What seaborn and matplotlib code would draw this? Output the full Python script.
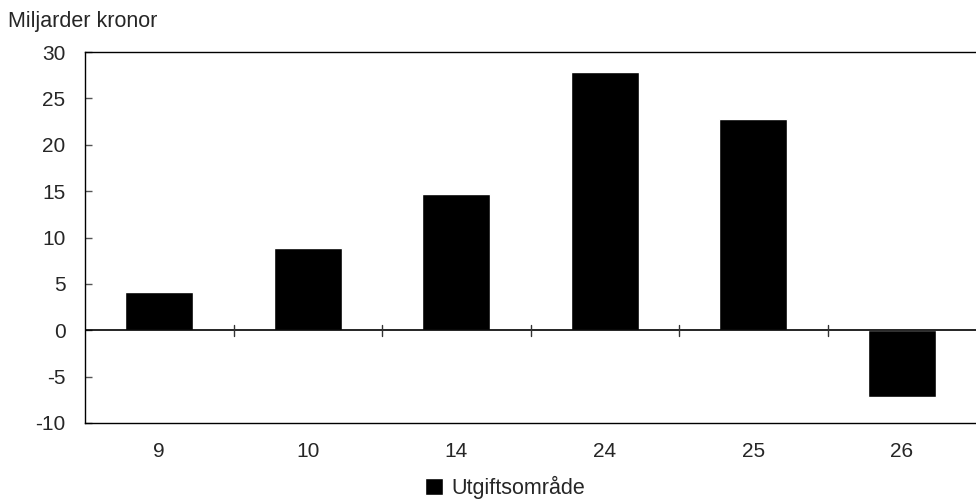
import matplotlib
matplotlib.use("Agg")
import matplotlib.pyplot as plt
import seaborn as sns
import pandas as pd
from matplotlib.patches import Patch

# data
omraden = ["9", "10", "14", "24", "25", "26"]
belopp = [4.1, 8.9, 14.7, 27.8, 22.8, -7.2]

df = pd.DataFrame({"omrade": omraden, "belopp": belopp})

sns.set_style("white")
plt.rcParams["font.family"] = ["Liberation Sans", "DejaVu Sans"]
plt.rcParams["axes.unicode_minus"] = False

fig = plt.figure(figsize=(9.76, 5.01), dpi=100)
ax = fig.add_axes([85 / 976, 1 - 423 / 501, 1 - 85 / 976, 371 / 501])

sns.barplot(data=df, x="omrade", y="belopp", color="black", width=0.46,
            saturation=1, ax=ax, order=omraden)

ax.set_ylim(-10, 30)
ax.set_xlim(-0.5, len(omraden) - 0.5)
ax.set_yticks(range(-10, 31, 5))
ax.set_xlabel("")
ax.set_ylabel("")

for side in ["left", "top", "bottom"]:
    ax.spines[side].set_visible(True)
    ax.spines[side].set_color("black")
    ax.spines[side].set_linewidth(1.0)
ax.spines["right"].set_visible(False)

ax.tick_params(axis="y", direction="in", length=5, width=1, color="#555555",
               labelsize=15, pad=14, left=True)
ax.tick_params(axis="x", length=0, labelsize=15, pad=14)

# zero line with ticks between the categories
ax.axhline(0, color="black", linewidth=1.2)
for b in range(1, len(omraden)):
    ax.plot([b - 0.5, b - 0.5], [-0.6, 0.6], color="#333333", linewidth=1)

fig.text(8 / 976, 1 - 22 / 501, "Miljarder kronor", fontsize=15.5, va="center")

fig.legend(handles=[Patch(facecolor="black", label="Utgiftsområde")],
           loc="center", bbox_to_anchor=(505 / 976, 1 - 487 / 501),
           frameon=False, fontsize=15.5, handlelength=0.85, handleheight=0.85,
           handletextpad=0.4)

fig.savefig("out.png", dpi=100)
